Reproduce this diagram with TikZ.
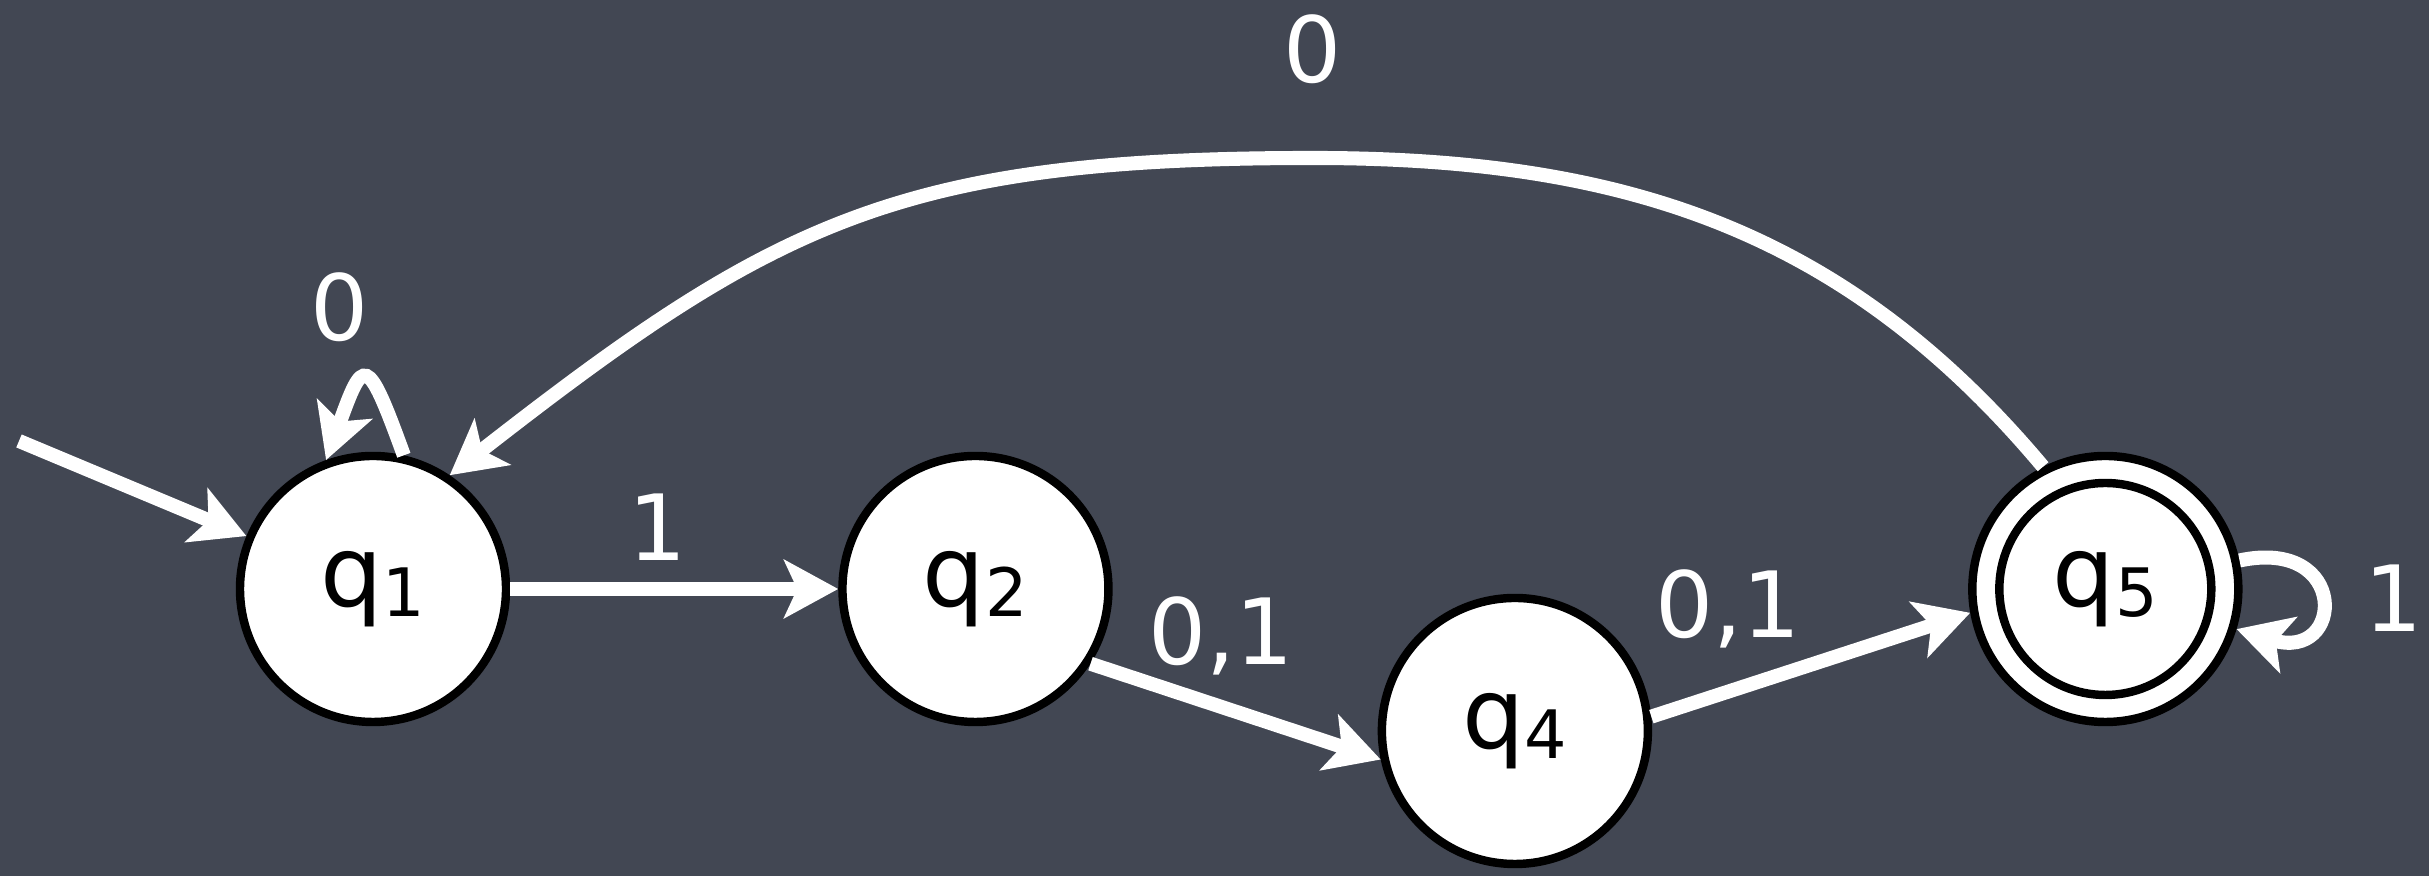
\documentclass[tikz,border=0pt]{standalone}
\usepackage{fontspec}
\setmainfont{DejaVu Sans}
\usetikzlibrary{arrows.meta,positioning,calc}
\definecolor{board}{RGB}{66,71,83}
\newcommand{\qstate}[1]{q\raisebox{-3pt}{\fontsize{19}{19}\selectfont #1}}

\begin{document}
\begin{tikzpicture}[
    font=\fontsize{26}{30}\selectfont,
    state/.style={circle, draw=black, line width=2.4pt, fill=white, text=black, minimum size=2.66cm, inner sep=0pt, font=\fontsize{28}{32}\selectfont},
    ring/.style={draw=black, line width=2.4pt},
    arr/.style={-{Stealth[length=5.4mm, width=5.8mm, inset=1.3mm]}, draw=white, line width=4pt},
    lab/.style={text=white, inner sep=2pt}
  ]
    \fill[board] (0,0) rectangle (24.29,8.76);
    \useasboundingbox (0,0) rectangle (24.29,8.76);
    \node[state] (q1) at (3.73,2.87) {\qstate{1}};
    \node[state, right=3.28cm of q1] (q2) {\qstate{2}};
    \node[state, right=2.65cm of q2, yshift=-1.42cm] (q4) {\qstate{4}};
    \node[state, right=3.16cm of q4, yshift=1.42cm] (q5) {\qstate{5}};
    \draw[ring] (q5.center) circle[radius=1.06cm];
    \coordinate (init) at (0.19,4.35);
    \coordinate (arctop) at (13.13,7.18);
    \draw[arr] (init) -- (q1);
    \draw[arr] (q1) -- node[above=4pt, lab, pos=0.45] {1} (q2);
    \draw[arr] (q2.-33) -- node[above=0.18cm, lab, pos=0.45] {0,1} (q4.192);
    \draw[arr] (q4.6) -- node[above=0.3cm, lab, pos=0.24] {0,1} (q5.190);
    \draw[arr] (q5.117) to[out=130, in=0] (arctop) node[above=0.6cm, lab] {0} to[out=180, in=38, looseness=1.15] (q1.56);
    \draw[arr] (q1.77) to[out=110, in=70, looseness=3.6] node[above=0.25cm, lab, xshift=-0.25cm] {0} (q1.110);
    \draw[arr] (q5.12) to[out=12, in=-17, looseness=4.2] node[right=0.3cm, lab] {1} (q5.-17);
\end{tikzpicture}
\end{document}
